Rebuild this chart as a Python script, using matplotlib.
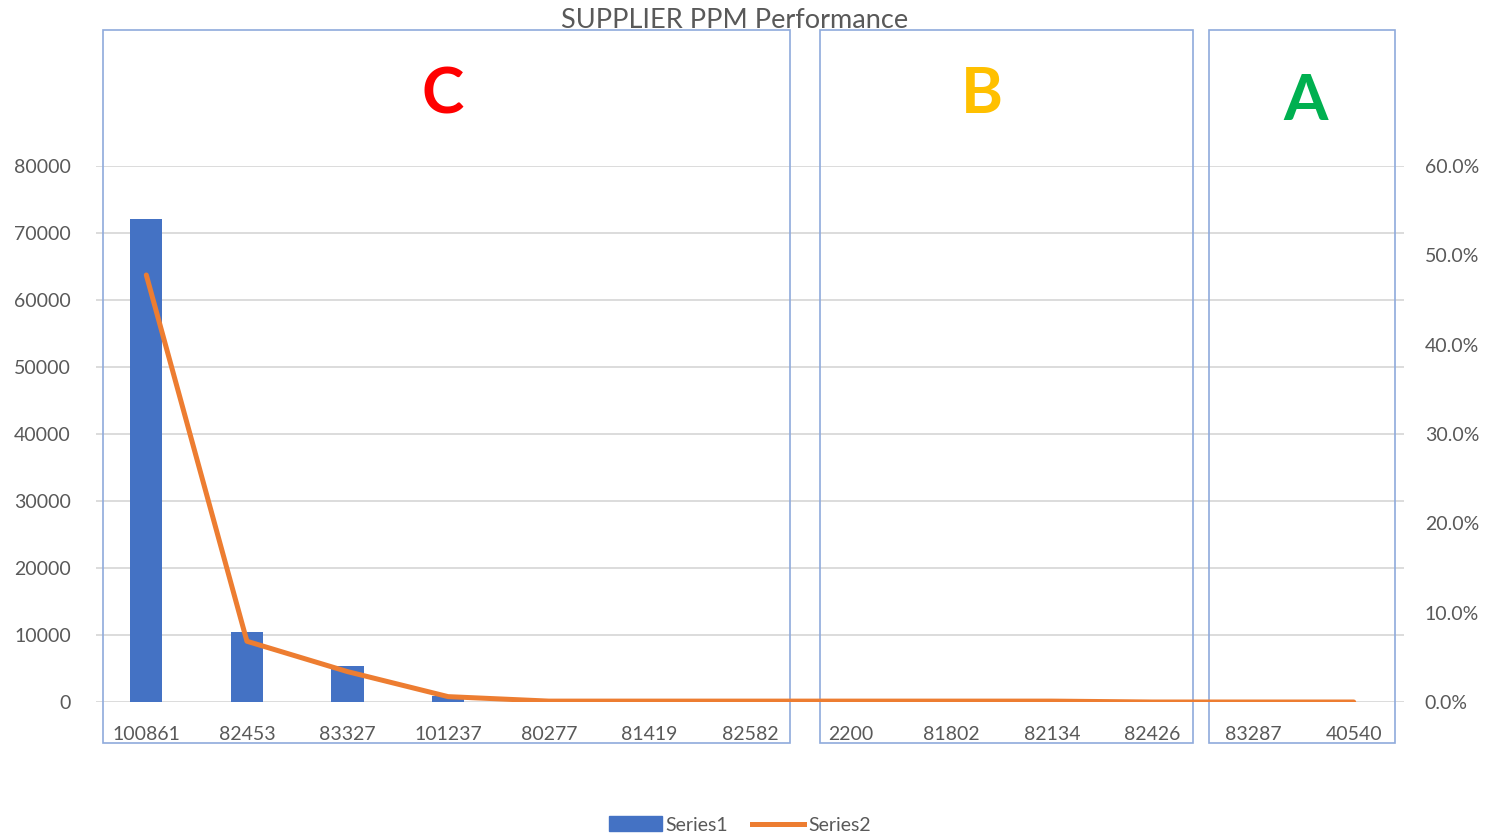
import numpy as np
import matplotlib
matplotlib.use("Agg")
import matplotlib.pyplot as plt
from matplotlib.patches import Rectangle, Patch
from matplotlib.lines import Line2D
import matplotlib.transforms as mtransforms

plt.rcParams['font.family'] = ['Lato', 'DejaVu Sans']

# data
suppliers = ['100861', '82453', '83327', '101237', '80277', '81419', '82582',
             '2200', '81802', '82134', '82426', '83287', '40540']
series1 = [72100, 10400, 5300, 900, 0, 0, 0, 0, 0, 0, 0, 0, 0]
series2 = [0.478, 0.068, 0.034, 0.006, 0.001, 0.001, 0.001, 0.001, 0.001, 0.001, 0.0, 0.0, 0.0]
groups = ['C', 'B', 'A']
group_sizes = [7, 4, 2]
group_colors = ['#FF0000', '#FFC000', '#00B050']

grey = '#595959'
fig = plt.figure(figsize=(14.93, 8.36), dpi=100)
ax = fig.add_axes([96/1493, 134/836, 1308/1493, 536/836])
x = np.arange(len(suppliers))

ax.bar(x, series1, width=0.32, color='#4472C4', zorder=3)
ax.set_xlim(-0.5, len(suppliers) - 0.5)
ax.set_ylim(0, 80000)
ax.set_yticks(np.arange(0, 80001, 10000))
ax.set_xticks(x)
ax.set_xticklabels(suppliers)
ax.grid(axis='y', color='#D9D9D9', lw=1.3, zorder=0)
ax.tick_params(axis='both', length=0, labelsize=14, labelcolor=grey)
ax.tick_params(axis='x', pad=17)
ax.tick_params(axis='y', pad=18)
for s in ax.spines.values():
    s.set_visible(False)

ax2 = ax.twinx()
ax2.plot(x, series2, color='#ED7D31', lw=3.6, solid_capstyle='round', zorder=4)
ax2.set_ylim(0, 0.6)
ax2.set_yticks(np.arange(0, 0.61, 0.1))
ax2.set_yticklabels([f'{v*100:.1f}%' for v in np.arange(0, 0.61, 0.1)])
ax2.tick_params(axis='y', length=0, labelsize=14, labelcolor=grey, pad=15)
for s in ax2.spines.values():
    s.set_visible(False)

# group boxes and letters
trans = mtransforms.blended_transform_factory(ax.transData, ax.transAxes)
box_pad = [(0.43, 0.40), (0.3, 0.4), (0.44, 0.41)]
letter_dx = [-0.05, -0.2, 0.02]
letter_y = [1.133, 1.133, 1.12]
start = 0
for g, n, c, (pl, pr), dx, ly in zip(groups, group_sizes, group_colors, box_pad, letter_dx, letter_y):
    left = start - pl
    right = start + n - 1 + pr
    rect = Rectangle((left, -0.0765), right - left, 1.33, transform=trans, fill=False,
                     edgecolor='#8FAADC', lw=1.2, clip_on=False, zorder=5)
    ax.add_patch(rect)
    ax.text(start + (n - 1) / 2 + dx, ly, g, transform=trans, ha='center', va='center',
            fontsize=46, fontweight='bold', color=c)
    start += n

fig.text(735/1493, 1 - 21/836, 'SUPPLIER PPM Performance', ha='center', va='center',
         fontsize=19.5, color=grey)

handles = [Patch(color='#4472C4'), Line2D([0], [0], color='#ED7D31', lw=3.6)]
fig.legend(handles, ['Series1', 'Series2'], loc='center', bbox_to_anchor=(740/1493, 1 - 825/836),
           ncol=2, frameon=False, fontsize=14, labelcolor=grey, handlelength=2.7,
           handleheight=0.8, handletextpad=0.2, columnspacing=1.2)

fig.savefig('out.png', dpi=100)
